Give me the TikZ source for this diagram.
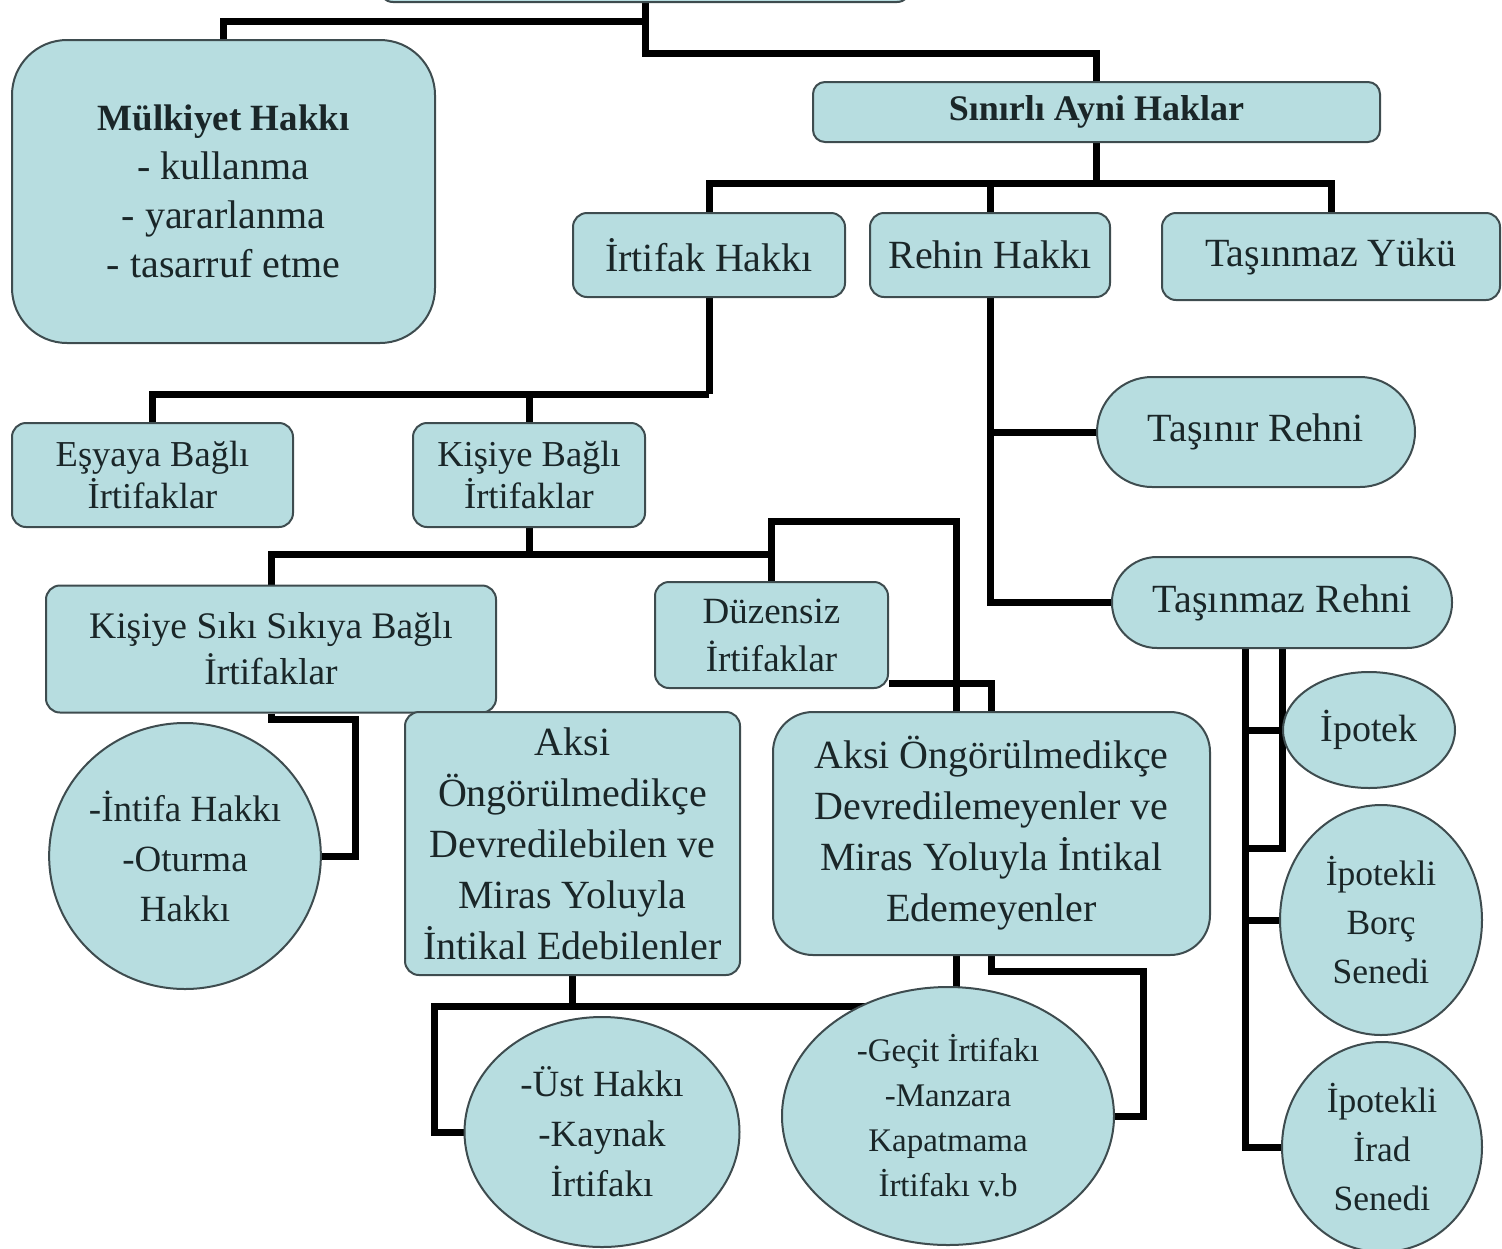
\documentclass[tikz,border=0pt]{standalone}
\usepackage{fontspec}
\setmainfont{Liberation Serif}
\usetikzlibrary{shapes.geometric,backgrounds}
\definecolor{boxfill}{RGB}{183,221,224}
\definecolor{boxline}{RGB}{62,76,79}
\definecolor{ink}{RGB}{26,38,40}

\begin{document}
\begin{tikzpicture}[x=1pt,y=-1pt,
  base/.style={draw=boxline,line width=2pt,fill=boxfill,text=ink,align=center,inner sep=0pt},
  card/.style={base,rectangle,rounded corners=#1},
  card/.default=14pt,
  oval/.style={base,ellipse},
  big/.style={font=\fontsize{40}{51}\selectfont},
  link/.style={line width=7pt,draw=black}
]
\useasboundingbox (0,0) rectangle (1502,1248);
\clip (0,0) rectangle (1502,1248);

% root box, mostly above the frame
\node[card, minimum width=532pt, minimum height=72pt] (top) at (645,-34) {};

% first level
\node[card=55pt, minimum width=423pt, minimum height=303pt, font=\fontsize{40}{49}\selectfont] (mulk) at (223.5,191.5)
  {{\bfseries\fontsize{37}{49}\selectfont Mülkiyet Hakkı}\\- kullanma\\- yararlanma\\- tasarruf etme};
\node[card=12pt, minimum width=567pt, minimum height=60pt, font=\bfseries\fontsize{36}{40}\selectfont] (sinirli) at (1096.5,112) {Sınırlı Ayni Haklar};

% limited real rights
\node[card, big, minimum width=272pt, minimum height=84pt] (irtifak) at (709,255) {İrtifak Hakkı};
\node[card, big, minimum width=240pt, minimum height=84pt] (rehin) at (990,255) {Rehin Hakkı};
\node[card, big, minimum width=338pt, minimum height=87pt] (yuk) at (1331,256.5) {Taşınmaz Yükü};

% servitudes
\node[card, minimum width=281pt, minimum height=104pt, font=\fontsize{36.5}{42}\selectfont] (esya) at (152.5,475) {Eşyaya Bağlı\\İrtifaklar};
\node[card, minimum width=232pt, minimum height=104pt, font=\fontsize{36.5}{42}\selectfont] (kisi) at (529,475) {Kişiye Bağlı\\İrtifaklar};
\node[card, minimum width=450pt, minimum height=127pt, font=\fontsize{37.5}{46}\selectfont] (siki) at (271,649) {Kişiye Sıkı Sıkıya Bağlı\\İrtifaklar};
\node[card, minimum width=233pt, minimum height=106pt, font=\fontsize{37}{48}\selectfont] (duz) at (771.5,635) {Düzensiz\\İrtifaklar};
\node[card, big, minimum width=335pt, minimum height=263pt] (aksiL) at (572.5,843.5)
  {Aksi\\Öngörülmedikçe\\Devredilebilen ve\\Miras Yoluyla\\İntikal Edebilenler};
\node[card=40pt, big, minimum width=437pt, minimum height=243pt] (aksiR) at (991.5,833.5)
  {Aksi Öngörülmedikçe\\Devredilemeyenler ve\\Miras Yoluyla İntikal\\Edemeyenler};

% examples
\node[oval, minimum width=270pt, minimum height=266pt, font=\fontsize{37}{50}\selectfont] (intifa) at (185,856) {-İntifa Hakkı\\-Oturma\\Hakkı};
\node[oval, minimum width=275pt, minimum height=230pt, font=\fontsize{37}{50}\selectfont] (ust) at (602,1132) {-Üst Hakkı\\-Kaynak\\İrtifakı};
\node[oval, minimum width=332pt, minimum height=258pt, font=\fontsize{33}{45}\selectfont] (gecit) at (948,1116) {-Geçit İrtifakı\\-Manzara\\Kapatmama\\İrtifakı v.b};

% pledges
\node[card=55pt, big, minimum width=318pt, minimum height=110pt] (tasinir) at (1256,432) {Taşınır Rehni};
\node[card=45pt, big, minimum width=340pt, minimum height=91pt] (tasinmazR) at (1282,602.5) {Taşınmaz Rehni};
\node[oval, minimum width=172pt, minimum height=116pt, font=\fontsize{38}{50}\selectfont] (ipotek) at (1369,730) {İpotek};
\node[oval, minimum width=202pt, minimum height=230pt, font=\fontsize{35.5}{49}\selectfont] (borc) at (1381,920) {İpotekli\\Borç\\Senedi};
\node[oval, minimum width=200pt, minimum height=210pt, font=\fontsize{35.5}{49}\selectfont] (irad) at (1382,1147) {İpotekli\\İrad\\Senedi};

% connectors, drawn beneath the boxes
\begin{pgfonlayer}{background}
  \draw[link] (top.south) -- ++(0,18) -| (mulk.north);
  \draw[link] (top.south) -- ++(0,50) -| (sinirli.north);

  \draw[link] (sinirli.south) -- ++(0,40) coordinate (sj);
  \draw[link] (irtifak.north) |- (sj) -| (yuk.north);
  \draw[link] (rehin.north) -- (rehin.north |- sj);

  \draw[link] (irtifak.south) -- ++(0,96) coordinate (ij);
  \draw[link] (esya.north) |- (ij);
  \draw[link] (kisi.north) -- (kisi.north |- ij);

  \draw[link] (kisi.south) -- ++(0,26) coordinate (kj);
  \draw[link] (siki.north) |- (kj) -| (duz.north);
  \draw[link] (duz.north) -- ++(0,-60) -| ([xshift=-35pt]aksiR.north);
  \draw[link] ([yshift=-48pt]duz.east) -| (aksiR.north);

  \draw[link] (siki.south) -- ++(0,6) -- ++(84,0) |- (intifa.east);

  \draw[link] (rehin.south) |- (tasinmazR.west);
  \draw[link] (rehin.south |- tasinir.west) -- (tasinir.west);

  \draw[link] (aksiL.south) -- ++(0,30) coordinate (aj);
  \draw[link] (aj) -- (aj -| gecit.center);
  \draw[link] (aj) -- ++(-138,0) |- (ust.west);

  \draw[link] ([xshift=-35pt]aksiR.south) -- ([xshift=-35pt]aksiR.south |- gecit.center);
  \draw[link] (aksiR.south) -- ++(0,15) -- ++(152,0) |- (gecit.east);

  \draw[link] (tasinmazR.south) -- ++(0,199) -- ++(-37,0);
  \draw[link] ([xshift=-37pt]tasinmazR.south) |- (irad.west);
  \draw[link] ([xshift=-37pt]tasinmazR.south |- ipotek.west) -- (ipotek.west);
  \draw[link] ([xshift=-37pt]tasinmazR.south |- borc.west) -- (borc.west);
\end{pgfonlayer}
\end{tikzpicture}
\end{document}
